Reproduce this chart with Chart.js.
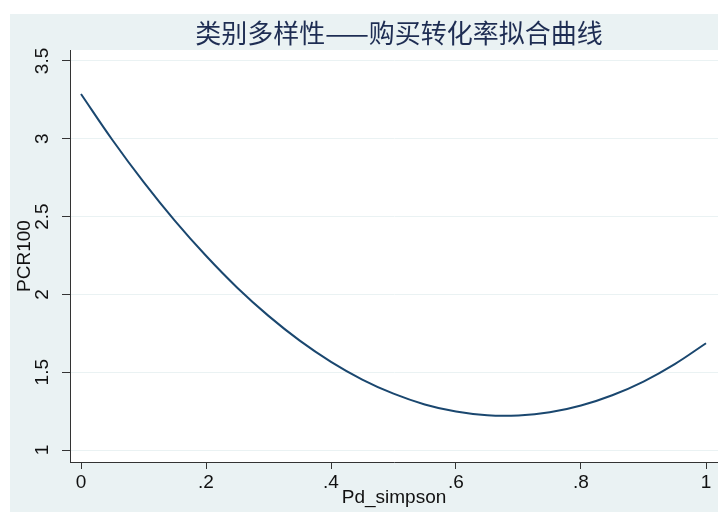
<!DOCTYPE html>
<html>
<head>
<meta charset="utf-8">
<script src="https://cdn.jsdelivr.net/npm/chart.js@4.4.1/dist/chart.umd.min.js"></script>
<style>
  html, body { margin: 0; padding: 0; background: #ffffff; }
  #wrap { width: 718px; height: 512px; }
</style>
</head>
<body>
<div id="wrap"><canvas id="c" width="718" height="512"></canvas></div>
<script>
// Fitted curve of PCR100 against Pd_simpson
const pdSimpson = [0, 0.05, 0.1, 0.15, 0.2, 0.25, 0.3, 0.35, 0.4, 0.45, 0.5,
                   0.55, 0.6, 0.65, 0.7, 0.75, 0.8, 0.85, 0.9, 0.95, 1.0];
const pcr100    = [3.288, 2.994, 2.723, 2.474, 2.248, 2.043, 1.862, 1.703, 1.567, 1.453, 1.362,
                   1.293, 1.247, 1.223, 1.222, 1.242, 1.286, 1.352, 1.440, 1.552, 1.686];
const xTicks = [0, 0.2, 0.4, 0.6, 0.8, 1];
const yTicks = [1, 1.5, 2, 2.5, 3, 3.5];
const titleText = '类别多样性——购买转化率拟合曲线';
const xTitle = 'Pd_simpson';
const yTitle = 'PCR100';

const BG = '#eaf2f3';
const INK = '#1a476f';
const TEXT = '#111111';
const FONT = '"Liberation Sans", Arial, sans-serif';

function fmtTick(v) {
  const s = String(Math.round(v * 10) / 10);
  return s.startsWith('0.') ? s.slice(1) : s;
}

const frame = {
  id: 'frame',
  beforeDraw(chart) {
    const ctx = chart.ctx, a = chart.chartArea;
    ctx.save();
    ctx.fillStyle = '#ffffff';
    ctx.fillRect(0, 0, chart.width, chart.height);
    ctx.fillStyle = BG;
    ctx.fillRect(10, 14, chart.width - 10, chart.height - 14);
    ctx.fillStyle = '#ffffff';
    ctx.fillRect(a.left, a.top, a.right - a.left, a.bottom - a.top);
    ctx.restore();
  },
  afterDraw(chart) {
    const ctx = chart.ctx, a = chart.chartArea;
    const ys = chart.scales.y;
    ctx.save();
    // title
    ctx.fillStyle = '#1e2d53';
    ctx.font = '26px "Noto Sans CJK SC", sans-serif';
    ctx.textAlign = 'center';
    ctx.textBaseline = 'middle';
    ctx.fillText(titleText, 399, 33);
    // rotated y tick labels
    ctx.fillStyle = TEXT;
    ctx.font = '19px ' + FONT;
    yTicks.forEach(v => {
      const py = ys.getPixelForValue(v);
      ctx.save();
      ctx.translate(43, py);
      ctx.rotate(-Math.PI / 2);
      ctx.textAlign = 'center';
      ctx.textBaseline = 'middle';
      ctx.fillText(fmtTick(v), 0, 0);
      ctx.restore();
    });
    // y axis title
    ctx.save();
    ctx.translate(25, (a.top + a.bottom) / 2);
    ctx.rotate(-Math.PI / 2);
    ctx.textAlign = 'center';
    ctx.textBaseline = 'middle';
    ctx.fillText(yTitle, 0, 0);
    ctx.restore();
    // x axis title
    ctx.textAlign = 'center';
    ctx.textBaseline = 'middle';
    ctx.fillText(xTitle, (a.left + a.right) / 2, 498);
    ctx.restore();
  }
};

new Chart(document.getElementById('c'), {
  type: 'line',
  data: {
    datasets: [{
      data: pdSimpson.map((x, i) => ({ x: x, y: pcr100[i] })),
      borderColor: INK,
      borderWidth: 2,
      pointRadius: 0,
      tension: 0.4,
      fill: false
    }]
  },
  options: {
    responsive: false,
    animation: false,
    devicePixelRatio: 1,
    layout: { padding: { top: 50, right: 0, left: 0, bottom: 0 } },
    plugins: { legend: { display: false }, title: { display: false }, tooltip: { enabled: false } },
    scales: {
      x: {
        type: 'linear',
        min: -0.0176,
        max: 1.0192,
        afterBuildTicks(s) { s.ticks = xTicks.map(v => ({ value: v })); },
        afterFit(s) { s.height = 50; },
        border: { display: true, color: '#333333', width: 1 },
        grid: { drawOnChartArea: false, drawTicks: true, tickLength: 7, tickColor: '#333333' },
        ticks: {
          color: TEXT, font: { family: FONT, size: 19 }, padding: 2,
          maxRotation: 0, minRotation: 0,
          callback: v => fmtTick(v)
        }
      },
      y: {
        type: 'linear',
        min: 0.923,
        max: 3.5705,
        afterBuildTicks(s) { s.ticks = yTicks.map(v => ({ value: v })); },
        afterFit(s) { s.width = 70; },
        border: { display: true, color: '#333333', width: 1 },
        grid: { color: BG, lineWidth: 1, drawTicks: true, tickLength: 8, tickColor: '#333333' },
        ticks: { display: false }
      }
    }
  },
  plugins: [frame]
});
</script>
</body>
</html>
